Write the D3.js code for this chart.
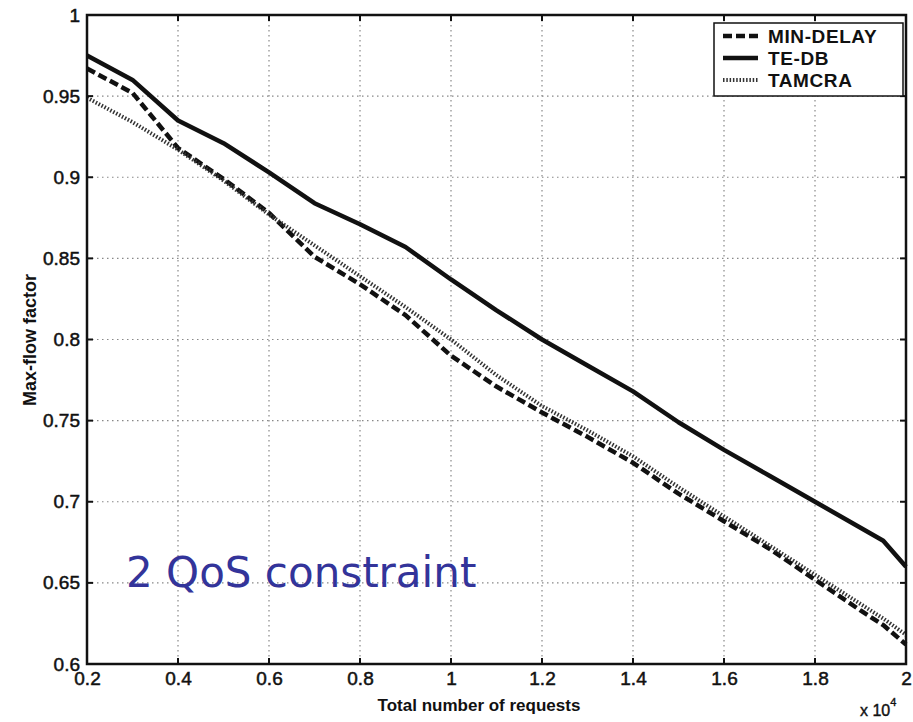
<!DOCTYPE html>
<html lang="en">
    <head>
        <meta charset="utf-8" />
        <title>Max-flow factor</title>
        <script type="text/javascript" src="https://cdn.jsdelivr.net/npm/d3@7"></script>
        <style type="text/css">
            body {
                margin: 0;
                background: white;
            }
            svg {
                display: block;
            }
        </style>
    </head>
    <body>
        <script type="text/javascript">
            // requests (x 10^4)
            var requests = [0.2, 0.3, 0.4, 0.5, 0.6, 0.7, 0.8, 0.9, 1.0, 1.1, 1.2, 1.3, 1.4, 1.5, 1.6, 1.7, 1.8, 1.9, 1.95, 2.0];
            var minDelay = [0.967, 0.952, 0.918, 0.899, 0.878, 0.851, 0.834, 0.815, 0.790, 0.771, 0.755, 0.740, 0.724, 0.705, 0.688, 0.671, 0.652, 0.633, 0.624, 0.612];
            var teDb = [0.975, 0.960, 0.935, 0.921, 0.903, 0.884, 0.871, 0.857, 0.837, 0.818, 0.800, 0.784, 0.768, 0.749, 0.732, 0.716, 0.700, 0.684, 0.676, 0.660];
            var tamcra = [0.949, 0.934, 0.917, 0.898, 0.877, 0.858, 0.839, 0.820, 0.800, 0.778, 0.759, 0.744, 0.728, 0.709, 0.691, 0.673, 0.655, 0.637, 0.628, 0.618];

            var xTicks = [0.2, 0.4, 0.6, 0.8, 1, 1.2, 1.4, 1.6, 1.8, 2];
            var yTicks = [0.6, 0.65, 0.7, 0.75, 0.8, 0.85, 0.9, 0.95, 1];

            var seriesNames = ["MIN-DELAY", "TE-DB", "TAMCRA"];
            var seriesValues = [minDelay, teDb, tamcra];

            var w = 913;
            var h = 722;
            var plotL = 87, plotR = 906, plotT = 15, plotB = 664;

            var styles = {
                "MIN-DELAY": { width: 4.5, dash: "9,4", color: "#111" },
                "TE-DB": { width: 4.5, dash: null, color: "#111" },
                "TAMCRA": { width: 4, dash: "1.5,1.8", color: "#333" }
            };

            var xScale = d3.scaleLinear().domain([0.2, 2]).range([plotL, plotR]);
            var yScale = d3.scaleLinear().domain([0.6, 1]).range([plotB, plotT]);

            var svg = d3
                .select("body")
                .append("svg")
                .attr("width", w)
                .attr("height", h);

            svg.append("rect")
                .attr("width", w)
                .attr("height", h)
                .attr("fill", "white");

            // grid
            var grid = svg.append("g").attr("class", "grid");
            grid.selectAll("line.gx")
                .data(xTicks.slice(1, -1))
                .enter()
                .append("line")
                .attr("x1", function(d) { return xScale(d); })
                .attr("x2", function(d) { return xScale(d); })
                .attr("y1", plotT)
                .attr("y2", plotB)
                .attr("stroke", "#888")
                .attr("stroke-width", 1.2)
                .attr("stroke-dasharray", "1.5,3.5");
            grid.selectAll("line.gy")
                .data(yTicks.slice(1, -1))
                .enter()
                .append("line")
                .attr("x1", plotL)
                .attr("x2", plotR)
                .attr("y1", function(d) { return yScale(d); })
                .attr("y2", function(d) { return yScale(d); })
                .attr("stroke", "#888")
                .attr("stroke-width", 1.2)
                .attr("stroke-dasharray", "1.5,3.5");

            // series
            seriesNames.forEach(function(name, k) {
                var vals = seriesValues[k];
                var line = d3.line()
                    .x(function(d, i) { return xScale(requests[i]); })
                    .y(function(d) { return yScale(d); });
                var st = styles[name];
                svg.append("path")
                    .datum(vals)
                    .attr("d", line)
                    .attr("fill", "none")
                    .attr("stroke", st.color)
                    .attr("stroke-width", st.width)
                    .attr("stroke-dasharray", st.dash)
                    .attr("stroke-linejoin", "round");
            });

            // axes
            var xAxisB = d3.axisBottom(xScale).tickValues(xTicks).tickSize(0).tickPadding(8)
                .tickFormat(function(d) { return d3.format("~g")(d); });
            var yAxisL = d3.axisLeft(yScale).tickValues(yTicks).tickSize(0).tickPadding(7)
                .tickFormat(function(d) { return d3.format("~g")(d); });

            var gxb = svg.append("g").attr("transform", "translate(0," + plotB + ")").call(xAxisB);
            var gyl = svg.append("g").attr("transform", "translate(" + plotL + ",0)").call(yAxisL);

            svg.selectAll(".domain").remove();
            svg.selectAll(".tick text")
                .attr("font-family", "Liberation Sans, Arial, sans-serif")
                .attr("font-size", "19px")
                .attr("fill", "#111")
                .attr("stroke", "#111")
                .attr("stroke-width", 0.5);

            // inward tick marks
            var ticksG = svg.append("g");
            xTicks.forEach(function(t) {
                ticksG.append("line")
                    .attr("x1", xScale(t)).attr("x2", xScale(t))
                    .attr("y1", plotB).attr("y2", plotB - 6)
                    .attr("stroke", "#111").attr("stroke-width", 2);
                ticksG.append("line")
                    .attr("x1", xScale(t)).attr("x2", xScale(t))
                    .attr("y1", plotT).attr("y2", plotT + 6)
                    .attr("stroke", "#111").attr("stroke-width", 2);
            });
            yTicks.forEach(function(t) {
                ticksG.append("line")
                    .attr("x1", plotL).attr("x2", plotL + 6)
                    .attr("y1", yScale(t)).attr("y2", yScale(t))
                    .attr("stroke", "#111").attr("stroke-width", 2);
                ticksG.append("line")
                    .attr("x1", plotR).attr("x2", plotR - 6)
                    .attr("y1", yScale(t)).attr("y2", yScale(t))
                    .attr("stroke", "#111").attr("stroke-width", 2);
            });

            // frame
            svg.append("rect")
                .attr("x", plotL)
                .attr("y", plotT)
                .attr("width", plotR - plotL)
                .attr("height", plotB - plotT)
                .attr("fill", "none")
                .attr("stroke", "#111")
                .attr("stroke-width", 2.5);

            // axis titles
            svg.append("text")
                .text("Total number of requests")
                .attr("x", 479)
                .attr("y", 711)
                .attr("text-anchor", "middle")
                .attr("font-family", "Liberation Sans, Arial, sans-serif")
                .attr("font-weight", "bold")
                .attr("font-size", "17px")
                .attr("fill", "#111");

            svg.append("text")
                .text("Max-flow factor")
                .attr("transform", "translate(36,340) rotate(-90)")
                .attr("text-anchor", "middle")
                .attr("font-family", "Liberation Sans, Arial, sans-serif")
                .attr("font-weight", "bold")
                .attr("font-size", "18px")
                .attr("fill", "#111");

            var expo = svg.append("text")
                .attr("x", 860)
                .attr("y", 716)
                .attr("font-family", "Liberation Sans, Arial, sans-serif")
                .attr("font-size", "16px")
                .attr("fill", "#111")
                .attr("stroke", "#111")
                .attr("stroke-width", 0.4);
            expo.append("tspan").text("x 10");
            expo.append("tspan").text("4").attr("dy", -10).attr("font-size", "11px");

            // legend
            var lg = svg.append("g");
            lg.append("rect")
                .attr("x", 714)
                .attr("y", 23)
                .attr("width", 189)
                .attr("height", 73)
                .attr("fill", "white")
                .attr("stroke", "#111")
                .attr("stroke-width", 1.5);
            var legendY = [36, 58, 80];
            seriesNames.forEach(function(name, k) {
                var st = styles[name];
                lg.append("line")
                    .attr("x1", 723)
                    .attr("x2", 758)
                    .attr("y1", legendY[k])
                    .attr("y2", legendY[k])
                    .attr("stroke", st.color)
                    .attr("stroke-width", st.width)
                    .attr("stroke-dasharray", st.dash);
                lg.append("text")
                    .text(name)
                    .attr("x", 768)
                    .attr("y", legendY[k] + 7)
                    .attr("font-family", "Liberation Sans, Arial, sans-serif")
                    .attr("font-weight", "bold")
                    .attr("font-size", "19px")
                    .attr("letter-spacing", "0.6px")
                    .attr("fill", "#111");
            });

            // annotation
            svg.append("text")
                .text("2 QoS constraint")
                .attr("x", 126)
                .attr("y", 587)
                .attr("font-family", "DejaVu Sans, Verdana, sans-serif")
                .attr("font-size", "42px")
                .attr("fill", "#33349a");
        </script>
    </body>
</html>
